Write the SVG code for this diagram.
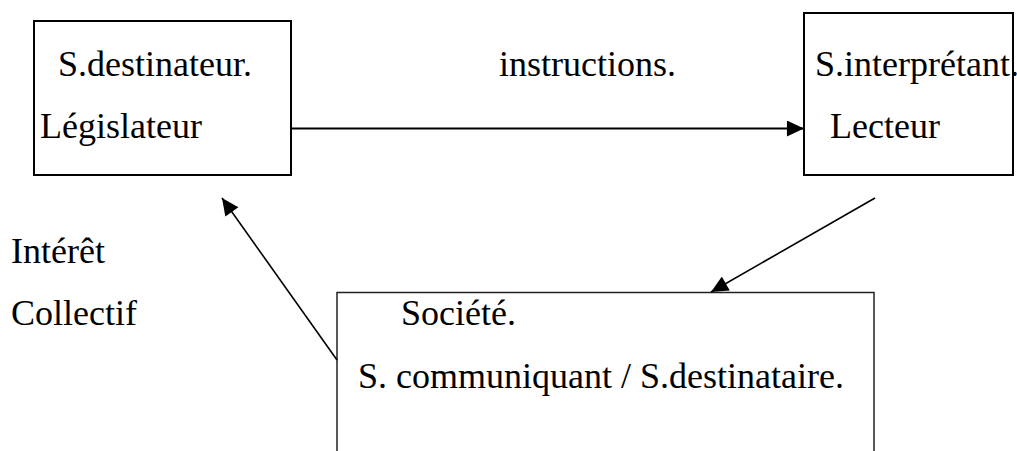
<svg xmlns="http://www.w3.org/2000/svg" width="1017" height="451" viewBox="0 0 1017 451">
  <style>
    .box { fill: #ffffff; stroke: #000000; stroke-width: 2; }
    .box.thin { stroke-width: 1.5; stroke: #222222; }
    .lbl { font-family: "Liberation Serif", "Times New Roman", serif; font-size: 36px; fill: #000000; }
    .edge { fill: none; stroke: #000000; stroke-width: 2; }
    .edge.thin { stroke-width: 1.6; }
  </style>
  <defs>
    <marker id="arrow" markerUnits="userSpaceOnUse" markerWidth="18" markerHeight="16" viewBox="0 0 16 15" refX="16" refY="7.5" orient="auto">
      <path d="M0,0 L16,7.5 L0,15 Z" fill="#000000"/>
    </marker>
  </defs>
  <rect width="1017" height="451" fill="#ffffff"/>

  <!-- Sender: legislator -->
  <g id="node-legislateur">
    <rect class="box" x="34" y="21" width="257" height="154"/>
    <text class="lbl" x="58" y="76">S.destinateur.</text>
    <text class="lbl" x="40" y="138">Législateur</text>
  </g>

  <!-- Interpreter: reader -->
  <g id="node-lecteur">
    <rect class="box" x="804" y="13" width="209" height="162"/>
    <text class="lbl" x="815" y="76">S.interprétant.</text>
    <text class="lbl" x="830" y="138">Lecteur</text>
  </g>

  <!-- Society -->
  <g id="node-societe">
    <rect class="box thin" x="337" y="292.5" width="537" height="180"/>
    <text class="lbl" x="401" y="325">Société.</text>
    <text class="lbl" x="358" y="388">S. communiquant / S.destinataire.</text>
  </g>

  <!-- Free labels -->
  <g id="label-instructions">
    <text class="lbl" x="499" y="76">instructions.</text>
  </g>
  <g id="label-interet">
    <text class="lbl" x="11" y="263">Intérêt</text>
    <text class="lbl" x="11" y="325">Collectif</text>
  </g>

  <!-- Connectors -->
  <g id="connectors">
    <line class="edge" x1="291" y1="128.5" x2="804" y2="128.5" marker-end="url(#arrow)"/>
    <line class="edge thin" x1="875" y1="198" x2="711" y2="292" marker-end="url(#arrow)"/>
    <line class="edge thin" x1="337" y1="360" x2="222" y2="198" marker-end="url(#arrow)"/>
  </g>
</svg>
